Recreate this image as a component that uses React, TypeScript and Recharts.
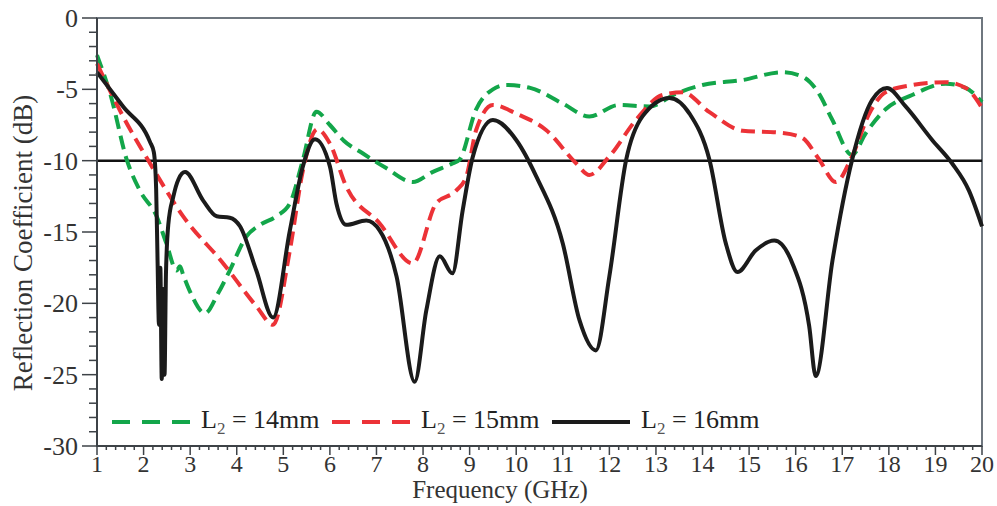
import React from "react";
import {
  LineChart,
  Line,
  XAxis,
  YAxis,
  ReferenceLine,
  ReferenceArea,
  Legend,
  Label,
} from "recharts";

// L2 = 14mm
const freq14 = [
  1.0, 1.3, 1.64, 1.92, 2.28, 2.49, 2.71, 2.78, 2.85, 3.0, 3.32, 3.6, 3.85, 4.21, 4.5, 4.85, 5.14,
  5.42, 5.71, 6.0, 6.3, 6.71, 7.2, 7.78, 8.2, 8.63, 8.78, 9.14, 9.5, 9.79, 10.3, 11.0, 11.57, 12.2,
  12.86, 13.43, 14.0, 14.86, 15.71, 16.14, 16.5, 16.78, 17.21, 17.5, 17.93, 18.5, 19.22, 19.65, 20.0,
];
const s11_14 = [
  -2.6, -5.5, -9.95, -12.1, -13.9, -15.8, -17.7, -17.4, -18.0, -19.2, -20.7, -19.3, -17.7, -15.3,
  -14.5, -13.9, -13.0, -9.95, -6.57, -7.5, -8.6, -9.5, -10.5, -11.5, -10.8, -10.2, -9.95, -6.4,
  -5.0, -4.7, -4.9, -6.0, -6.9, -6.1, -6.2, -5.3, -4.7, -4.35, -3.8, -4.1, -5.3, -7.1, -9.6, -8.1,
  -6.4, -5.4, -4.6, -4.9, -5.9,
];

// L2 = 15mm
const freq15 = [
  1.0, 1.56, 2.14, 2.85, 3.71, 4.42, 4.78, 5.14, 5.42, 5.73, 6.0, 6.35, 7.07, 7.78, 8.28, 8.71,
  8.93, 9.14, 9.5, 10.0, 10.64, 11.29, 11.57, 12.0, 12.57, 13.14, 13.57, 14.15, 14.86, 15.71,
  16.14, 16.5, 16.86, 17.21, 17.58, 17.93, 18.5, 19.22, 19.65, 20.0,
];
const s11_15 = [
  -3.2, -6.9, -10.2, -13.9, -17.2, -20.2, -21.5, -16.3, -10.7, -7.8, -8.8, -11.8, -14.4, -17.2,
  -13.0, -12.1, -11.1, -7.85, -6.1, -6.7, -7.85, -10.2, -11.0, -9.7, -7.15, -5.4, -5.2, -6.6,
  -7.9, -8.05, -8.4, -9.9, -11.5, -9.7, -6.7, -5.2, -4.7, -4.5, -4.9, -6.3,
];

// L2 = 16mm
const freq16 = [
  1.0, 1.56, 2.14, 2.22, 2.27, 2.3, 2.33, 2.36, 2.39, 2.42, 2.45, 2.48, 2.53, 2.64, 2.75, 2.89,
  3.28, 3.57, 3.85, 4.07, 4.42, 4.78, 5.14, 5.42, 5.68, 6.0, 6.14, 6.35, 6.78, 7.07, 7.43, 7.82,
  8.07, 8.36, 8.63, 8.85, 9.07, 9.5, 10.0, 10.43, 11.0, 11.36, 11.71, 12.0, 12.36, 12.71, 13.29,
  13.72, 14.15, 14.5, 14.75, 15.14, 15.54, 15.93, 16.29, 16.43, 16.79, 17.21, 17.64, 17.96, 18.36,
  18.93, 19.36, 19.72, 20.0,
];
const s11_16 = [
  -3.8, -6.2, -8.7, -9.4, -12, -17, -21.5, -17.5, -25.3, -19, -25, -18, -14.5, -12.5, -11.3,
  -10.8, -12.8, -13.9, -14.0, -14.6, -17.7, -21.0, -14.9, -10.4, -8.5, -10.4, -13.0, -14.5,
  -14.2, -14.9, -18.1, -25.5, -20.5, -16.7, -17.9, -13.5, -9.7, -7.15, -8.55, -11.1, -15.8,
  -21.2, -23.3, -18.1, -9.95, -6.9, -5.6, -6.7, -9.95, -15.8, -17.8, -16.3, -15.6, -17.2, -21.6,
  -25.1, -17, -9.95, -5.75, -4.9, -6.2, -8.55, -10.2, -12.1, -14.6,
];

const xTicks = [1, 2, 3, 4, 5, 6, 7, 8, 9, 10, 11, 12, 13, 14, 15, 16, 17, 18, 19, 20];
const yTicks = [0, -5, -10, -15, -20, -25, -30];

const xAllTicks = Array.from({ length: 96 }, (_, i) => Math.round((1 + i * 0.2) * 10) / 10);
const yAllTicks = Array.from({ length: 31 }, (_, i) => -i);

const toPoints = (f: number[], v: number[]) => f.map((x, i) => ({ f: x, v: v[i] }));

const series = [
  { name: "14mm", data: toPoints(freq14, s11_14), color: "#13a64a", dash: "14 7" },
  { name: "15mm", data: toPoints(freq15, s11_15), color: "#ec3237", dash: "14 7" },
  { name: "16mm", data: toPoints(freq16, s11_16), color: "#1b1b1b", dash: undefined },
];

const FONT = '"Liberation Serif", "Times New Roman", serif';
const AXIS = "#3d4247";

function XTick({ x, y, payload }: any) {
  const v = payload.value;
  const major = xTicks.includes(v);
  return (
    <g>
      <line x1={x} x2={x} y1={y} y2={y + (major ? 9 : 4)} stroke={AXIS} strokeWidth={1.5} />
      {major && (
        <text x={x} y={y + 26} textAnchor="middle" fontSize={24} fill="#333" fontFamily={FONT}>
          {v}
        </text>
      )}
    </g>
  );
}

function YTick({ x, y, payload }: any) {
  const v = payload.value;
  const major = yTicks.includes(v);
  return (
    <g>
      <line x1={x} x2={x - (major ? 15 : 8)} y1={y} y2={y} stroke={AXIS} strokeWidth={1.5} />
      {major && (
        <text x={x - 19} y={y + 9} textAnchor="end" fontSize={26} fill="#333" fontFamily={FONT}>
          {v}
        </text>
      )}
    </g>
  );
}

function LegendBox() {
  return (
    <div style={{ display: "flex", alignItems: "center", fontFamily: FONT, fontSize: 26, color: "#222" }}>
      {series.map((s) => (
        <div key={s.name} style={{ display: "flex", alignItems: "center", width: 220 }}>
          <svg width={80} height={8} style={{ marginRight: 9 }}>
            <line
              x1={0}
              x2={78}
              y1={4}
              y2={4}
              stroke={s.color}
              strokeWidth={4}
              strokeDasharray={s.dash ? "18 12" : undefined}
            />
          </svg>
          <span style={{ whiteSpace: "nowrap" }}>
            L<sub style={{ fontSize: 17, color: "#555" }}>2</sub> = {s.name}
          </span>
        </div>
      ))}
    </div>
  );
}

export default function App() {
  return (
    <div style={{ position: "absolute", left: 0, top: 0, background: "#fff" }}>
      <LineChart width={997} height={506} margin={{ top: 18, right: 15, left: 0, bottom: 0 }}>
        <ReferenceArea
          x1={1}
          x2={20}
          y1={-30}
          y2={0}
          fill="none"
          stroke="#6f777f"
          strokeWidth={2}
          ifOverflow="visible"
        />
        <XAxis
          dataKey="f"
          type="number"
          domain={[1, 20]}
          ticks={xAllTicks}
          interval={0}
          allowDuplicatedCategory={false}
          height={60}
          tickSize={0}
          tickMargin={0}
          tickLine={false}
          tick={<XTick />}
          axisLine={{ stroke: AXIS, strokeWidth: 2 }}
        >
          <Label
            content={() => (
              <text x={500} y={498} textAnchor="middle" fontSize={25} fontFamily={FONT} fill="#333">
                Frequency (GHz)
              </text>
            )}
          />
        </XAxis>
        <YAxis
          type="number"
          domain={[-30, 0]}
          ticks={yAllTicks}
          interval={0}
          width={97}
          tickSize={0}
          tickMargin={0}
          tickLine={false}
          tick={<YTick />}
          axisLine={{ stroke: AXIS, strokeWidth: 2 }}
        >
          <Label
            content={() => (
              <text
                x={23}
                y={243}
                transform="rotate(-90, 23, 243)"
                textAnchor="middle"
                dominantBaseline="central"
                fontSize={27}
                fontFamily={FONT}
                fill="#333"
              >
                Reflection Coefficient (dB)
              </text>
            )}
          />
        </YAxis>
        <ReferenceLine y={-10} stroke="#111" strokeWidth={2.5} />
        {series.map((s) => (
          <Line
            key={s.name}
            data={s.data}
            dataKey="v"
            name={s.name}
            type="monotone"
            stroke={s.color}
            strokeWidth={4}
            strokeDasharray={s.dash}
            dot={false}
            activeDot={false}
            isAnimationActive={false}
          />
        ))}
        <Legend
          layout="horizontal"
          verticalAlign="middle"
          align="center"
          content={() => <LegendBox />}
          wrapperStyle={{ left: 112, top: 405, width: "auto" }}
        />
      </LineChart>
    </div>
  );
}
